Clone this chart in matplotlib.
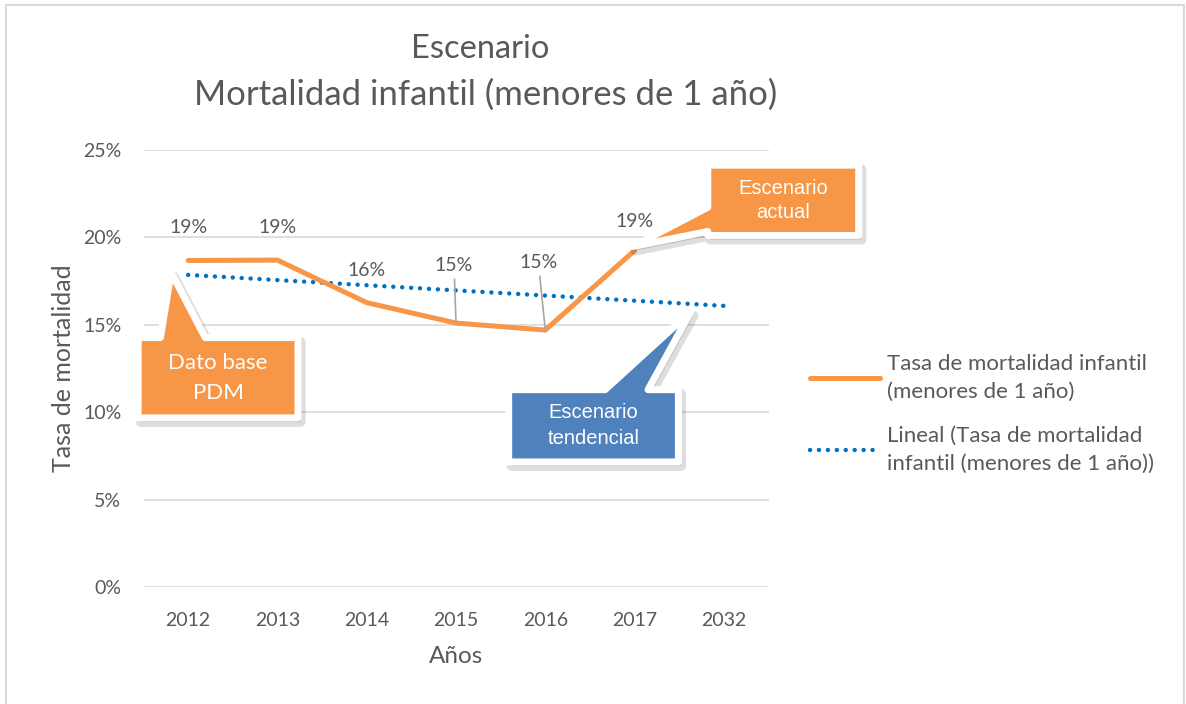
import numpy as np
import matplotlib.pyplot as plt
from matplotlib.patches import Polygon, Rectangle
import matplotlib.transforms as mtransforms

# Data
years = ['2012', '2013', '2014', '2015', '2016', '2017', '2032']
tasa = [0.1868, 0.1870, 0.1627, 0.1510, 0.1470, 0.1925]   # 2032 has no value
labels = ['19%', '19%', '16%', '15%', '15%', '19%']

# label offsets (pixels) and whether a leader line is drawn
lab_off = [(0, 33), (0, 33), (0, 32), (-2, 58), (-7, 68), (0, 29)]
lab_leader = [False, False, False, True, True, False]

orange = '#F79646'
blue_line = '#0070C0'
blue_box = '#4F81BD'
txt = '#595959'
grid = '#D9D9D9'

plt.rcParams['font.family'] = ['Lato', 'DejaVu Sans']

fig = plt.figure(figsize=(11.86, 7.04), dpi=100)
ax = fig.add_axes([0.121, 0.166, 0.527, 0.621])

# outer chart border
fig.patches.append(Rectangle((6 / 1186, -0.02), 1178 / 1186, 1 - 5 / 704 + 0.02,
                             transform=fig.transFigure, fill=False,
                             edgecolor='#D9D9D9', lw=1.5))

x = np.arange(len(years))
xd = x[:len(tasa)]

# linear trend (Excel "Lineal"), extended to the last category
coef = np.polyfit(xd, tasa, 1)
trend = np.polyval(coef, x)

ax.plot(x, trend, color=blue_line, lw=3.2, linestyle=(0, (0.01, 2.0)),
        dash_capstyle='round', label='Lineal (Tasa de mortalidad\ninfantil (menores de 1 año))',
        zorder=3)
ax.plot(xd, tasa, color=orange, lw=3.6, solid_capstyle='round',
        label='Tasa de mortalidad infantil\n(menores de 1 año)', zorder=4)

for i, (v, lab) in enumerate(zip(tasa, labels)):
    dx, dy = lab_off[i]
    props = dict(arrowstyle='-', color='#A6A6A6', lw=1.2, shrinkA=2, shrinkB=0) if lab_leader[i] else None
    ax.annotate(lab, xy=(i, v), xytext=(dx, dy), textcoords='offset pixels',
                ha='center', va='center', fontsize=14, color=txt,
                arrowprops=props, zorder=5)

ax.set_xlim(-0.5, len(years) - 0.5)
ax.set_ylim(0, 0.25)
ax.set_yticks(np.arange(0, 0.26, 0.05))
ax.set_yticklabels([f'{int(round(t * 100))}%' for t in np.arange(0, 0.26, 0.05)])
ax.set_xticks(x)
ax.set_xticklabels(years)
ax.tick_params(length=0, labelsize=14, labelcolor=txt)
ax.tick_params(axis='x', pad=18)
ax.tick_params(axis='y', pad=16)
ax.grid(axis='y', color=grid, lw=1.2)
ax.set_axisbelow(True)
for s in ax.spines.values():
    s.set_visible(False)

ax.set_xlabel('Años', fontsize=17.5, color=txt, labelpad=12)
ax.set_ylabel('Tasa de mortalidad', fontsize=18, color=txt, labelpad=6)

fig.text(480 / 1186, 1 - 49 / 704, 'Escenario', ha='center', va='center',
         fontsize=23.5, color=txt)
fig.text(486 / 1186, 1 - 95 / 704, 'Mortalidad infantil (menores de 1 año)',
         ha='center', va='center', fontsize=25, color=txt)

shadow_tr = ax.transData + mtransforms.ScaledTranslation(2 / 72, -3 / 72, fig.dpi_scale_trans)


# callouts: box (x0, x1, y0, y1) in data units, tail base + tip
def callout(box, tail, tip, side, color, text, family, size, spacing):
    x0, x1, y0, y1 = box
    t0, t1 = tail
    if side == 'top':
        pts = [(x0, y0), (x0, y1), (t0, y1), tip, (t1, y1), (x1, y1), (x1, y0)]
    else:  # left
        pts = [(x0, y0), (x0, t0), tip, (x0, t1), (x0, y1), (x1, y1), (x1, y0)]
    shadow = Polygon(pts, closed=True, facecolor='#000000', edgecolor='#000000', lw=7,
                     alpha=0.13, joinstyle='round', transform=shadow_tr,
                     clip_on=False, zorder=6)
    ax.add_patch(shadow)
    poly = Polygon(pts, closed=True, facecolor=color, edgecolor='white', lw=5,
                   joinstyle='round', transform=ax.transData, clip_on=False, zorder=6.5)
    ax.add_patch(poly)
    ax.text((x0 + x1) / 2, (y0 + y1) / 2, text, ha='center', va='center',
            color='white', fontsize=size, linespacing=spacing, family=family,
            zorder=7, clip_on=False)


callout((-0.56, 1.23, 0.0968, 0.1427), (-0.31, 0.19), (-0.19, 0.180), 'top',
        orange, 'Dato base\nPDM', ['Lato', 'DejaVu Sans'], 16, 1.6)
callout((3.59, 5.49, 0.0716, 0.1129), (4.67, 5.15), (5.63, 0.1576), 'top',
        blue_box, 'Escenario\ntendencial', ['Liberation Sans', 'DejaVu Sans'], 14.5, 1.45)
callout((5.82, 7.51, 0.2011, 0.2413), (0.2034, 0.2172), (4.98, 0.1948), 'left',
        orange, 'Escenario\nactual', ['Liberation Sans', 'DejaVu Sans'], 14.5, 1.35)

h, l = ax.get_legend_handles_labels()
leg = fig.legend(h[::-1], l[::-1], loc='center left',
                 bbox_to_anchor=(810 / 1186, 1 - 414 / 704), frameon=False,
                 fontsize=16, handlelength=3.15, handletextpad=0.3,
                 labelspacing=1.1, labelcolor=txt, borderpad=0, borderaxespad=0)
for t in leg.get_texts():
    t.set_linespacing(1.5)

fig.savefig('out.png', dpi=100)
